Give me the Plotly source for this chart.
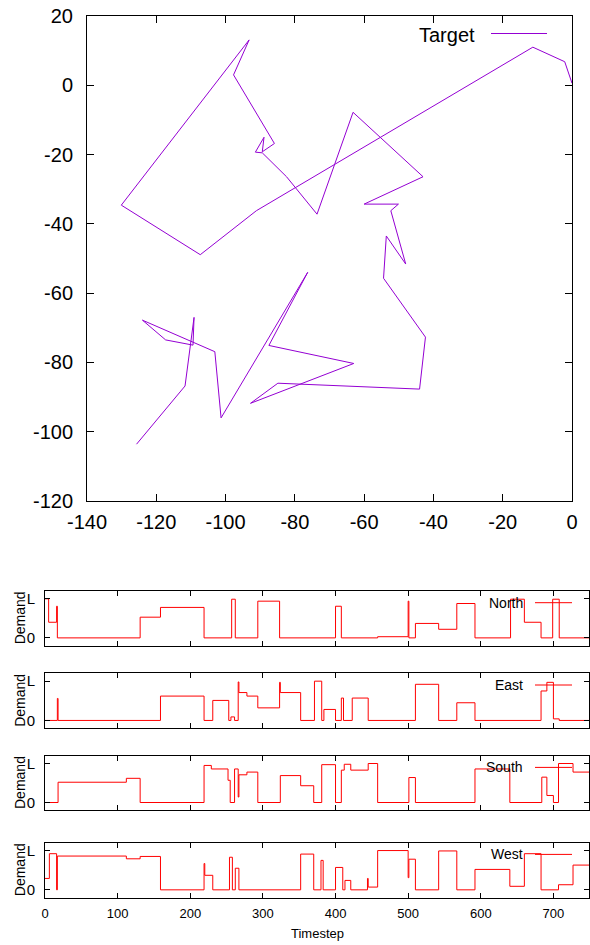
import plotly.graph_objects as go

# ---------------- data ----------------
target_x = [0.0, -2.1, -11.3, -91.1, -107.3, -130.1, -93.2, -97.7, -85.9, -89.4, -88.9, -91.4, -89.4,
            -82.4, -73.6, -63.2, -43.0, -60.0, -50.1, -52.3, -48.0, -53.6, -54.4, -42.3, -44.0,
            -84.9, -92.8, -63.0, -87.5, -76.3, -101.3, -103.1, -124.0, -117.3, -109.4, -109.1,
            -111.7, -125.7]
target_y = [0.6, 6.8, 11.0, -36.2, -48.9, -34.6, 13.1, 3.0, -16.8, -19.2, -15.0, -19.3, -19.5,
            -26.4, -37.2, -7.8, -26.4, -34.3, -34.3, -36.2, -51.6, -43.5, -55.7, -72.7, -87.7,
            -86.0, -91.8, -80.3, -75.1, -54.0, -96.0, -76.9, -67.8, -73.5, -75.0, -67.0,
            -86.8, -103.6]

north_t = [0, 5, 16, 17, 131, 159, 219, 257, 262, 293, 323, 400, 408, 458, 500, 501, 510, 542,
           567, 592, 641, 660, 683, 699, 708, 749]
north_v = [1.0, 0.40, 0.81, 0.0, 0.53, 0.78, 0.0, 0.99, 0.0, 0.94, 0.0, 0.81, 0.0, 0.03, 0.94,
           0.0, 0.37, 0.22, 0.88, 0.0, 0.99, 0.40, 0.0, 0.99, 0.0, 0.0]

east_t = [0, 17, 18, 159, 219, 231, 253, 256, 261, 266, 267, 278, 293, 323, 324, 352, 371, 381,
          384, 400, 408, 411, 423, 445, 510, 542, 567, 592, 683, 691, 700, 708, 749]
east_v = [0.0, 0.56, 0.0, 0.62, 0.0, 0.51, 0.0, 0.09, 0.0, 0.98, 0.71, 0.62, 0.32, 0.97, 0.71,
          0.0, 1.0, 0.0, 0.28, 0.0, 0.57, 0.0, 0.57, 0.0, 0.92, 0.0, 0.45, 0.0, 0.75, 0.97,
          0.04, 0.0, 0.0]

south_t = [0, 18, 112, 131, 219, 229, 252, 255, 261, 266, 267, 278, 293, 324, 352, 370, 381,
           400, 408, 412, 421, 445, 458, 501, 510, 592, 640, 684, 691, 700, 707, 727, 749]
south_v = [0.0, 0.52, 0.62, 0.0, 0.95, 0.86, 0.57, 0.0, 0.86, 0.14, 0.71, 0.78, 0.0, 0.69,
           0.43, 0.0, 0.97, 0.0, 0.83, 0.98, 0.83, 1.0, 0.0, 0.64, 0.0, 0.86, 0.0, 0.65, 0.18,
           0.0, 1.0, 0.78, 0.78]

west_t = [0, 6, 16, 17, 112, 131, 159, 219, 220, 231, 254, 258, 262, 267, 352, 370, 380, 383,
          400, 410, 413, 421, 444, 445, 458, 500, 501, 510, 542, 567, 592, 640, 660, 683, 707,
          727, 749]
west_v = [0.29, 0.92, 0.0, 0.86, 0.79, 0.85, 0.0, 0.67, 0.37, 0.0, 0.83, 0.0, 0.55, 0.0, 0.91,
          0.0, 0.75, 0.0, 0.57, 0.0, 0.24, 0.0, 0.29, 0.07, 1.0, 0.31, 0.78, 0.0, 0.99, 0.0,
          0.52, 0.09, 0.92, 0.0, 0.13, 0.63, 0.63]

panel_names = ["North", "East", "South", "West"]
x_tick_vals = [0, 100, 200, 300, 400, 500, 600, 700]
top_x_ticks = [-140, -120, -100, -80, -60, -40, -20, 0]
top_y_ticks = [20, 0, -20, -40, -60, -80, -100, -120]

# ---------------- layout helpers ----------------
W, H = 590, 945
FONT = "Liberation Sans, Arial, sans-serif"
PURPLE = "#9400D3"
RED = "#ff0000"


def px_x(p):
    return p / W


def px_y(p):
    return 1 - p / H


def hyphen_labels(vals):
    return [str(v) for v in vals]


fig = go.Figure()

fig.add_trace(go.Scatter(x=target_x, y=target_y, mode="lines",
                         line=dict(color=PURPLE, width=1), showlegend=False,
                         xaxis="x", yaxis="y"))

layout = dict(
    width=W, height=H,
    margin=dict(l=0, r=0, t=0, b=0, autoexpand=False),
    paper_bgcolor="white", plot_bgcolor="white",
    font=dict(family=FONT, color="black"),
    showlegend=False,
)

axis_common = dict(showgrid=False, zeroline=False, showline=True, linecolor="black",
                   linewidth=1, mirror="allticks", ticks="inside", tickcolor="black",
                   automargin=False)

layout["xaxis"] = dict(axis_common, domain=[px_x(87), px_x(572)], range=[-140, 0],
                       tickvals=top_x_ticks, ticktext=hyphen_labels(top_x_ticks), ticklen=7,
                       tickfont=dict(size=20), anchor="y", ticklabelstandoff=3)
layout["yaxis"] = dict(axis_common, domain=[px_y(501), px_y(16)], range=[-120, 20],
                       tickvals=top_y_ticks, ticktext=hyphen_labels(top_y_ticks), ticklen=7,
                       tickfont=dict(size=20), anchor="x", ticklabelstandoff=9)

panel_px = [(591, 645.7), (673.3, 728.3), (755.7, 810.3), (842.7, 897.7)]
series_t = [north_t, east_t, south_t, west_t]
series_v = [north_v, east_v, south_v, west_v]

annotations = [dict(text="Target", x=px_x(477), y=px_y(35), xref="paper", yref="paper",
                    xanchor="right", yanchor="middle", showarrow=False,
                    font=dict(size=20, family=FONT))]
shapes = [dict(type="line", xref="paper", yref="paper", x0=px_x(491), x1=px_x(547),
               y0=px_y(33.5), y1=px_y(33.5), line=dict(color=PURPLE, width=1))]

for i, (name, (ptop, pbot), ts, vs) in enumerate(zip(panel_names, panel_px, series_t, series_v)):
    k = i + 2
    xa, ya = f"x{k}", f"y{k}"
    fig.add_trace(go.Scatter(x=ts, y=vs, mode="lines", line=dict(color=RED, width=1, shape="hv"),
                             showlegend=False, xaxis=xa, yaxis=ya))
    last = (i == 3)
    layout[f"xaxis{k}"] = dict(axis_common, domain=[px_x(45), px_x(589)], range=[0, 749],
                               tickvals=x_tick_vals, ticklen=5, tickfont=dict(size=13),
                               showticklabels=last, anchor=ya, ticklabelstandoff=4)
    layout[f"yaxis{k}"] = dict(axis_common, domain=[px_y(pbot), px_y(ptop)], range=[-0.2, 1.2],
                               tickvals=[0, 1], ticktext=["0", "L"], ticklen=5,
                               tickfont=dict(size=15), anchor=xa, ticklabelstandoff=6)
    cy = (ptop + pbot) / 2
    annotations.append(dict(text="Demand", x=px_x(20), y=px_y(cy), xref="paper", yref="paper",
                            textangle=-90, xanchor="center", yanchor="middle", showarrow=False,
                            font=dict(size=14, family=FONT)))
    ky = ptop + 11.7
    annotations.append(dict(text=name, x=px_x(525), y=px_y(ky), xref="paper", yref="paper",
                            xanchor="right", yanchor="middle", showarrow=False,
                            font=dict(size=14, family=FONT)))
    shapes.append(dict(type="line", xref="paper", yref="paper", x0=px_x(535), x1=px_x(572),
                       y0=px_y(ky), y1=px_y(ky), line=dict(color=RED, width=1)))

annotations.append(dict(text="Timestep", x=px_x(317), y=px_y(933), xref="paper", yref="paper",
                        xanchor="center", yanchor="middle", showarrow=False,
                        font=dict(size=13, family=FONT)))

layout["annotations"] = annotations
layout["shapes"] = shapes
fig.update_layout(**layout)
fig.write_html("out.html")
